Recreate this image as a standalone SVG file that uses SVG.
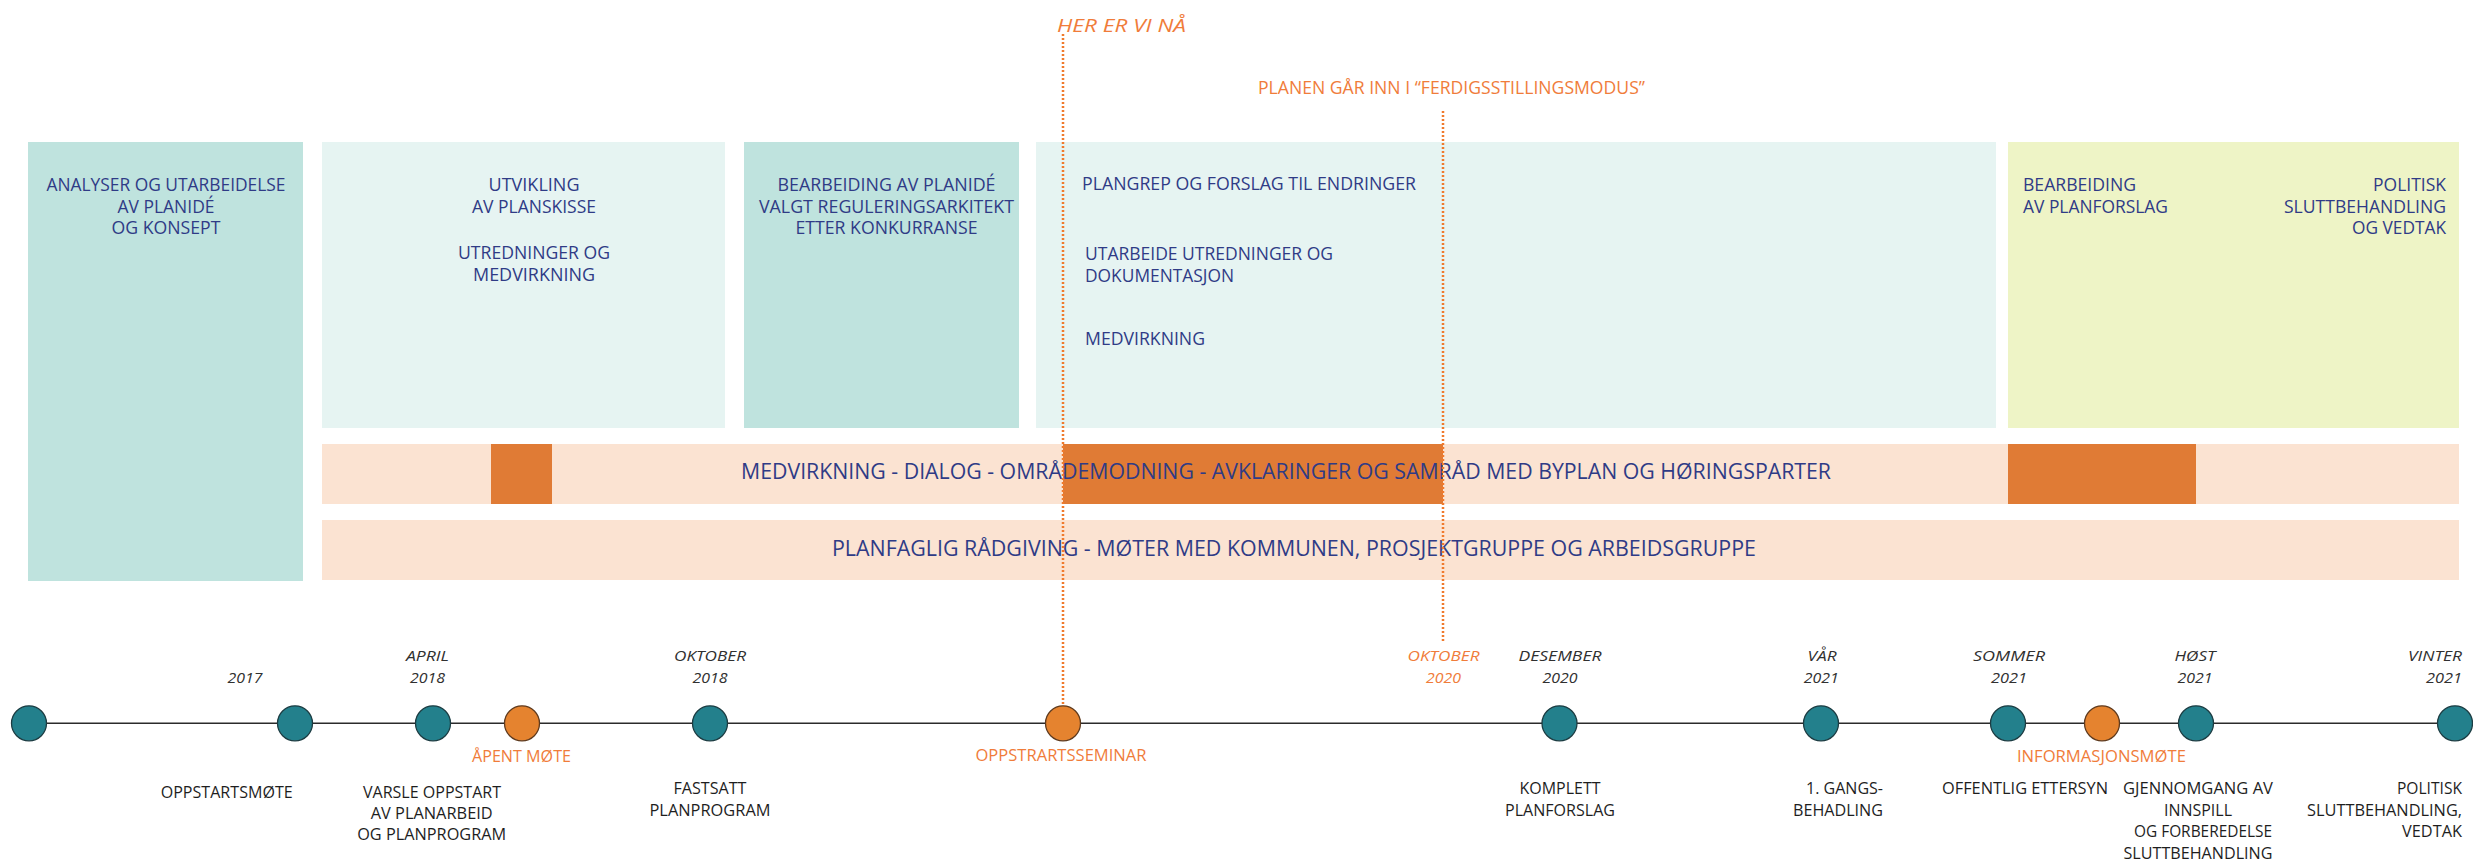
<svg xmlns="http://www.w3.org/2000/svg" width="2473" height="862" viewBox="0 0 2473 862">
<defs>
<style>
text{font-family:"Open Sans","Liberation Sans",sans-serif;}
.nv{fill:#2f3b86;font-size:18px;}
.bt{fill:#2f3b86;font-size:22px;}
.tl{fill:#1e1e1e;font-size:15.5px;}
.yr{fill:#303030;font-size:15px;font-style:italic;}
.or{fill:#f07c3a;}
.orl{fill:#f07c3a;font-size:15.5px;}
.m{text-anchor:middle;}
.e{text-anchor:end;}
.teal{fill:#bfe3de;}
.pale{fill:#e6f4f2;}
.lime{fill:#eef4c6;}
.peach{fill:#fbe3d2;}
.oblk{fill:#e07b35;}
.dot{stroke:#f07a2c;stroke-width:2.5;stroke-dasharray:2 2;fill:none;}
.tc{fill:#23808c;stroke:#1c3c42;stroke-width:1.3;}
.oc{fill:#e5832f;stroke:#5e3a1e;stroke-width:1.3;}
</style>
</defs>
<rect width="2473" height="862" fill="#ffffff"/>

<g id="box-analyser">
<rect class="teal" x="28" y="142" width="275" height="439"/>
<text class="nv m" x="166" y="190.5" textLength="239" lengthAdjust="spacingAndGlyphs">ANALYSER OG UTARBEIDELSE</text>
<text class="nv m" x="166" y="212.5" textLength="97" lengthAdjust="spacingAndGlyphs">AV PLANIDÉ</text>
<text class="nv m" x="166" y="234" textLength="109" lengthAdjust="spacingAndGlyphs">OG  KONSEPT</text>
</g>

<g id="box-utvikling">
<rect class="pale" x="322" y="142" width="403" height="286"/>
<text class="nv m" x="534" y="190.5" textLength="91" lengthAdjust="spacingAndGlyphs">UTVIKLING</text>
<text class="nv m" x="534" y="212.5" textLength="124" lengthAdjust="spacingAndGlyphs">AV PLANSKISSE</text>
<text class="nv m" x="534" y="258.5" textLength="152" lengthAdjust="spacingAndGlyphs">UTREDNINGER OG</text>
<text class="nv m" x="534" y="280.5" textLength="122" lengthAdjust="spacingAndGlyphs">MEDVIRKNING</text>
</g>

<g id="box-bearbeiding-planide">
<rect class="teal" x="744" y="142" width="275" height="286"/>
<text class="nv m" x="886.5" y="190.5" textLength="218" lengthAdjust="spacingAndGlyphs">BEARBEIDING AV PLANIDÉ</text>
<text class="nv m" x="886.5" y="212.5" textLength="255" lengthAdjust="spacingAndGlyphs">VALGT REGULERINGSARKITEKT</text>
<text class="nv m" x="886.5" y="234" textLength="182" lengthAdjust="spacingAndGlyphs">ETTER KONKURRANSE</text>
</g>

<g id="box-plangrep">
<rect class="pale" x="1036" y="142" width="960" height="286"/>
<text class="nv" x="1082" y="189.5" textLength="334" lengthAdjust="spacingAndGlyphs">PLANGREP OG FORSLAG  TIL ENDRINGER</text>
<text class="nv" x="1085" y="260" textLength="248" lengthAdjust="spacingAndGlyphs">UTARBEIDE UTREDNINGER OG</text>
<text class="nv" x="1085" y="282.3" textLength="149" lengthAdjust="spacingAndGlyphs">DOKUMENTASJON</text>
<text class="nv" x="1085" y="345" textLength="120" lengthAdjust="spacingAndGlyphs">MEDVIRKNING</text>
</g>

<g id="box-planforslag">
<rect class="lime" x="2008" y="142" width="451" height="286"/>
<text class="nv" x="2023" y="190.5" textLength="113" lengthAdjust="spacingAndGlyphs">BEARBEIDING</text>
<text class="nv" x="2023" y="212.5" textLength="145" lengthAdjust="spacingAndGlyphs">AV PLANFORSLAG</text>
<text class="nv e" x="2446" y="190.5" textLength="73" lengthAdjust="spacingAndGlyphs">POLITISK</text>
<text class="nv e" x="2446" y="212.5" textLength="162" lengthAdjust="spacingAndGlyphs">SLUTTBEHANDLING</text>
<text class="nv e" x="2446" y="234" textLength="94" lengthAdjust="spacingAndGlyphs">OG VEDTAK</text>
</g>

<g id="bar-medvirkning">
<rect class="peach" x="322" y="444" width="2137" height="60"/>
<rect class="oblk" x="491" y="444" width="61" height="60"/>
<rect class="oblk" x="1063" y="444" width="380" height="60"/>
<rect class="oblk" x="2008" y="444" width="188" height="60"/>
<text class="bt m" x="1286" y="479" textLength="1090" lengthAdjust="spacingAndGlyphs">MEDVIRKNING - DIALOG  - OMRÅDEMODNING - AVKLARINGER OG SAMRÅD MED BYPLAN OG HØRINGSPARTER</text>
</g>

<g id="bar-planfaglig">
<rect class="peach" x="322" y="520" width="2137" height="60"/>
<text class="bt m" x="1294" y="556" textLength="924" lengthAdjust="spacingAndGlyphs">PLANFAGLIG RÅDGIVING  - MØTER MED KOMMUNEN, PROSJEKTGRUPPE OG ARBEIDSGRUPPE</text>
</g>

<g id="marker-her-er-vi-na">
<text class="or" x="1057" y="31.7" font-size="19" font-style="italic" textLength="129" lengthAdjust="spacingAndGlyphs">HER ER VI NÅ</text>
</g>

<g id="marker-ferdigstilling">
<text class="or" x="1258" y="94" font-size="17.5" textLength="387" lengthAdjust="spacingAndGlyphs">PLANEN GÅR INN I “FERDIGSSTILLINGSMODUS”</text>
</g>

<g id="connectors">
<line x1="29" y1="723.3" x2="2473" y2="723.3" stroke="#2b2b2b" stroke-width="1.6"/>
<line class="dot" x1="1063" y1="34" x2="1063" y2="722"/>
<line class="dot" x1="1443" y1="111" x2="1443" y2="643"/>
</g>

<g id="m-oppstartsmote">
<circle class="tc" cx="29" cy="723.3" r="17.5"/>
</g>
<g id="m-2017">
<circle class="tc" cx="295" cy="723.3" r="17.5"/>
<text class="yr m" x="245" y="682.7" textLength="35" lengthAdjust="spacingAndGlyphs">2017</text>
<text class="tl m" x="226.7" y="798.3" textLength="132" lengthAdjust="spacingAndGlyphs">OPPSTARTSMØTE</text>
</g>
<g id="m-april-2018">
<circle class="tc" cx="433" cy="723.3" r="17.5"/>
<text class="yr m" x="427.5" y="661" textLength="43" lengthAdjust="spacingAndGlyphs">APRIL</text>
<text class="yr m" x="427.5" y="682.7" textLength="35" lengthAdjust="spacingAndGlyphs">2018</text>
<text class="tl m" x="432" y="798.3" textLength="138" lengthAdjust="spacingAndGlyphs">VARSLE OPPSTART</text>
<text class="tl m" x="431.7" y="819" textLength="122" lengthAdjust="spacingAndGlyphs">AV PLANARBEID</text>
<text class="tl m" x="431.7" y="840" textLength="149" lengthAdjust="spacingAndGlyphs">OG PLANPROGRAM</text>
</g>
<g id="m-apent-mote">
<circle class="oc" cx="522" cy="723.3" r="17.5"/>
<text class="orl m" x="521.5" y="761.5" textLength="99" lengthAdjust="spacingAndGlyphs">ÅPENT MØTE</text>
</g>
<g id="m-oktober-2018">
<circle class="tc" cx="710" cy="723.3" r="17.5"/>
<text class="yr m" x="710" y="661" textLength="72" lengthAdjust="spacingAndGlyphs">OKTOBER</text>
<text class="yr m" x="710" y="682.5" textLength="35" lengthAdjust="spacingAndGlyphs">2018</text>
<text class="tl m" x="710" y="794.3" textLength="73" lengthAdjust="spacingAndGlyphs">FASTSATT</text>
<text class="tl m" x="710" y="815.7" textLength="121" lengthAdjust="spacingAndGlyphs">PLANPROGRAM</text>
</g>
<g id="m-oppstartsseminar">
<circle class="oc" cx="1063" cy="723.3" r="17.5"/>
<text class="orl m" x="1061" y="761" textLength="171" lengthAdjust="spacingAndGlyphs">OPPSTRARTSSEMINAR</text>
</g>
<g id="m-oktober-2020">
<text class="yr m" x="1443.5" y="661" textLength="72" lengthAdjust="spacingAndGlyphs" style="fill:#f07c3a">OKTOBER</text>
<text class="yr m" x="1443.5" y="682.5" textLength="35" lengthAdjust="spacingAndGlyphs" style="fill:#f07c3a">2020</text>
</g>
<g id="m-desember-2020">
<circle class="tc" cx="1559.5" cy="723.3" r="17.5"/>
<text class="yr m" x="1560" y="661" textLength="83" lengthAdjust="spacingAndGlyphs">DESEMBER</text>
<text class="yr m" x="1560" y="682.5" textLength="35" lengthAdjust="spacingAndGlyphs">2020</text>
<text class="tl m" x="1560" y="794.3" textLength="81" lengthAdjust="spacingAndGlyphs">KOMPLETT</text>
<text class="tl m" x="1560" y="815.7" textLength="110" lengthAdjust="spacingAndGlyphs">PLANFORSLAG</text>
</g>
<g id="m-var-2021">
<circle class="tc" cx="1821" cy="723.3" r="17.5"/>
<text class="yr m" x="1822" y="661" textLength="29" lengthAdjust="spacingAndGlyphs">VÅR</text>
<text class="yr m" x="1821.3" y="682.5" textLength="35" lengthAdjust="spacingAndGlyphs">2021</text>
<text class="tl e" x="1883" y="794.3" textLength="77" lengthAdjust="spacingAndGlyphs">1. GANGS-</text>
<text class="tl e" x="1883" y="815.7" textLength="90" lengthAdjust="spacingAndGlyphs">BEHADLING</text>
</g>
<g id="m-sommer-2021">
<circle class="tc" cx="2008" cy="723.3" r="17.5"/>
<text class="yr m" x="2009" y="661" textLength="72" lengthAdjust="spacingAndGlyphs">SOMMER</text>
<text class="yr m" x="2009" y="682.5" textLength="36" lengthAdjust="spacingAndGlyphs">2021</text>
<text class="tl m" x="2025" y="794.3" textLength="166" lengthAdjust="spacingAndGlyphs">OFFENTLIG ETTERSYN</text>
</g>
<g id="m-informasjonsmote">
<circle class="oc" cx="2102" cy="723.3" r="17.5"/>
<text class="orl m" x="2101.4" y="761.5" textLength="169" lengthAdjust="spacingAndGlyphs">INFORMASJONSMØTE</text>
</g>
<g id="m-host-2021">
<circle class="tc" cx="2196" cy="723.3" r="17.5"/>
<text class="yr m" x="2195" y="661" textLength="41" lengthAdjust="spacingAndGlyphs">HØST</text>
<text class="yr m" x="2195" y="682.5" textLength="35" lengthAdjust="spacingAndGlyphs">2021</text>
<text class="tl m" x="2198" y="794.3" textLength="150" lengthAdjust="spacingAndGlyphs">GJENNOMGANG AV</text>
<text class="tl m" x="2198" y="815.7" textLength="68" lengthAdjust="spacingAndGlyphs">INNSPILL</text>
<text class="tl m" x="2203" y="837" textLength="138" lengthAdjust="spacingAndGlyphs">OG FORBEREDELSE</text>
<text class="tl m" x="2198" y="858.5" textLength="149" lengthAdjust="spacingAndGlyphs">SLUTTBEHANDLING</text>
</g>
<g id="m-vinter-2021">
<circle class="tc" cx="2455" cy="723.3" r="17.5"/>
<text class="yr e" x="2462" y="661" textLength="54" lengthAdjust="spacingAndGlyphs">VINTER</text>
<text class="yr e" x="2462" y="682.5" textLength="36" lengthAdjust="spacingAndGlyphs">2021</text>
<text class="tl e" x="2462" y="794.3" textLength="65" lengthAdjust="spacingAndGlyphs">POLITISK</text>
<text class="tl e" x="2462" y="815.7" textLength="155" lengthAdjust="spacingAndGlyphs">SLUTTBEHANDLING,</text>
<text class="tl e" x="2462" y="837" textLength="60" lengthAdjust="spacingAndGlyphs">VEDTAK</text>
</g>
</svg>
